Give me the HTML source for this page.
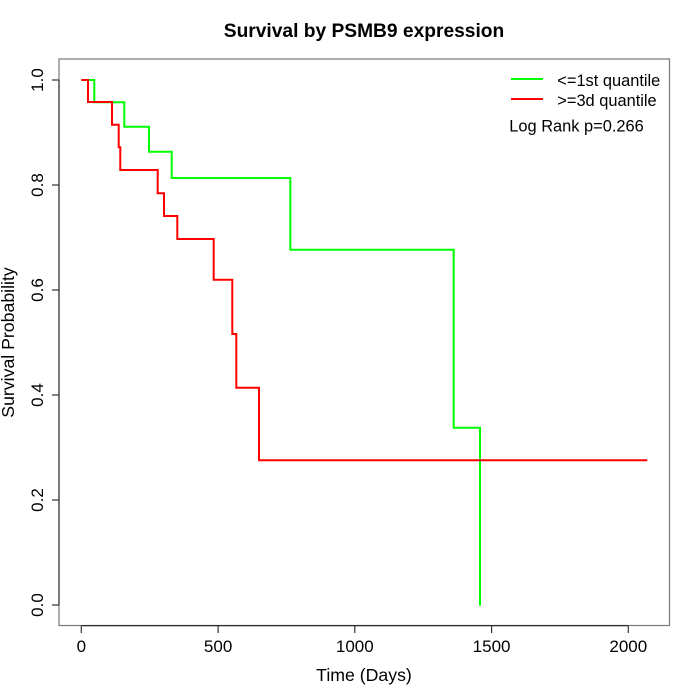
<!DOCTYPE html>
<html><head><meta charset="utf-8"><style>
html,body{margin:0;padding:0;background:#fff;}
svg{display:block;}
text{font-family:"Liberation Sans",Arial,sans-serif;fill:#000;}
</style></head><body>
<svg width="700" height="700" viewBox="0 0 700 700" xmlns="http://www.w3.org/2000/svg">
<rect width="700" height="700" fill="#fff"/>
<text x="364" y="37" text-anchor="middle" font-size="19.2" font-weight="bold">Survival by PSMB9 expression</text>
<!-- box -->
<rect x="59" y="59" width="610.5" height="566.5" fill="none" stroke="#777" stroke-width="1.2"/>
<!-- axes -->
<line x1="59" y1="80" x2="59" y2="605.5" stroke="#333" stroke-width="1.2"/>
<line x1="81.3" y1="625.7" x2="628.3" y2="625.7" stroke="#222" stroke-width="1.2"/>
<!-- ticks -->
<g stroke="#333" stroke-width="1.2">
<line x1="52" y1="80" x2="59" y2="80"/>
<line x1="52" y1="185" x2="59" y2="185"/>
<line x1="52" y1="290" x2="59" y2="290"/>
<line x1="52" y1="395" x2="59" y2="395"/>
<line x1="52" y1="500" x2="59" y2="500"/>
<line x1="52" y1="605" x2="59" y2="605"/>
<line x1="81.3" y1="626" x2="81.3" y2="633"/>
<line x1="218.1" y1="626" x2="218.1" y2="633"/>
<line x1="354.8" y1="626" x2="354.8" y2="633"/>
<line x1="491.6" y1="626" x2="491.6" y2="633"/>
<line x1="628.3" y1="626" x2="628.3" y2="633"/>
</g>
<g font-size="17" text-anchor="middle">
<text transform="translate(43,80) rotate(-90)">1.0</text>
<text transform="translate(43,185) rotate(-90)">0.8</text>
<text transform="translate(43,290) rotate(-90)">0.6</text>
<text transform="translate(43,395) rotate(-90)">0.4</text>
<text transform="translate(43,500) rotate(-90)">0.2</text>
<text transform="translate(43,605) rotate(-90)">0.0</text>
<text x="81.3" y="652">0</text>
<text x="218.1" y="652">500</text>
<text x="354.8" y="652">1000</text>
<text x="491.6" y="652">1500</text>
<text x="628.3" y="652">2000</text>
</g>
<g font-size="17.7" text-anchor="middle">
<text x="364" y="681">Time (Days)</text>
<text transform="translate(14,342.5) rotate(-90)">Survival Probability</text>
</g>
<!-- curves -->
<path d="M81.3,80 H94.3 V102.3 H124.3 V126.7 H149 V151.7 H171.7 V178 H290.3 V249.7 H453.7 V427.7 H480 V605.7" fill="none" stroke="#00ff00" stroke-width="2"/>
<path d="M81.3,80 H88 V102 H112 V124.7 H118.7 V147.3 H120.3 V170 H157.7 V193.3 H164 V216 H177.3 V239 H213.7 V279.7 H232.3 V334 H236.3 V387.7 H259 V460.3 H647.3" fill="none" stroke="#ff0000" stroke-width="2"/>
<!-- legend -->
<line x1="511" y1="79" x2="543" y2="79" stroke="#00ff00" stroke-width="2"/>
<line x1="511" y1="99" x2="543" y2="99" stroke="#ff0000" stroke-width="2"/>
<g font-size="16.4">
<text x="557.3" y="86">&lt;=1st quantile</text>
<text x="557.3" y="106">&gt;=3d quantile</text>
<text x="509.3" y="131.5">Log Rank p=0.266</text>
</g>
</svg>
</body></html>
